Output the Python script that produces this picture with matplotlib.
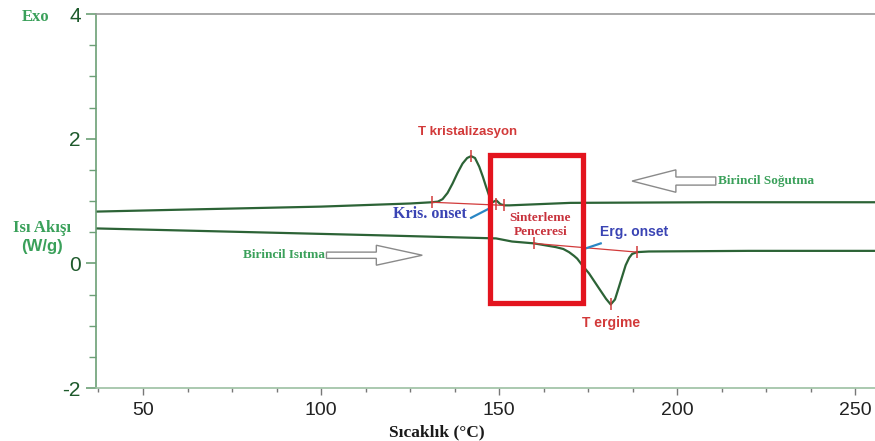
import matplotlib.pyplot as plt
from matplotlib.patches import Rectangle, FancyArrow
from matplotlib.ticker import MultipleLocator

plt.rcParams['axes.unicode_minus'] = False

# ilk sogutma egrisi (ust)
cool_T = [36.8, 60, 100, 125, 131.1, 132.8, 134.1, 135.5, 136.9, 138.3, 139.7, 141.0, 142.1,
          143.2, 144.4, 145.4, 146.3, 147.2, 148.1, 149.2, 150.3, 151.4, 152.8, 170, 210, 255.5]
cool_v = [0.83, 0.86, 0.91, 0.96, 0.98, 0.99, 1.03, 1.13, 1.28, 1.45, 1.60, 1.69, 1.72,
          1.69, 1.55, 1.39, 1.23, 1.08, 0.98, 1.01, 0.95, 0.93, 0.93, 0.97, 0.98, 0.98]

# ilk isitma egrisi (alt)
heat_T = [36.8, 66, 116, 149.1, 153.6, 159.8, 165.9, 168.0, 169.6, 171.0, 171.9, 173.3, 175.2,
          178.0, 180.0, 181.3, 182.5, 183.6, 185.5, 186.5, 187.3, 188.7, 192.0, 220, 255.5]
heat_v = [0.56, 0.52, 0.45, 0.40, 0.35, 0.32, 0.26, 0.23, 0.18, 0.12, 0.075, -0.03, -0.16,
          -0.40, -0.57, -0.66, -0.58, -0.38, -0.03, 0.09, 0.15, 0.18, 0.19, 0.20, 0.20]

# taban cizgileri ve isaretler
cool_base_T = [131.1, 151.4]
cool_base_v = [0.98, 0.93]
heat_base_T = [159.8, 188.7]
heat_base_v = [0.32, 0.18]
mark_T = [131.1, 142.1, 149.2, 151.4, 159.8, 181.3, 188.7]
mark_v = [0.98, 1.72, 0.95, 0.93, 0.32, -0.66, 0.18]

window = (147.5, 173.5)   # sinterleme penceresi
window_v = (-0.63, 1.73)

W, H = 875, 441
fig = plt.figure(figsize=(W / 100, H / 100), dpi=100)
ax = fig.add_axes([96 / W, 1 - 388 / H, 1 - 96 / W, (388 - 14) / H])

line_c = '#2c6336'
red = '#d23a3a'
blue = '#3a44b4'
green_txt = '#3aa05a'

ax.plot(cool_T, cool_v, color=line_c, lw=1.6)
ax.plot(heat_T, heat_v, color=line_c, lw=1.6)
ax.plot(cool_base_T, cool_base_v, color=red, lw=0.9)
ax.plot(heat_base_T, heat_base_v, color=red, lw=0.9)
ax.plot(mark_T, mark_v, ls='none', marker='|', ms=9, mew=1.1, color=red)

ax.add_patch(Rectangle((window[0], window_v[0]), window[1] - window[0],
                       window_v[1] - window_v[0], fill=False, ec='#e3141e', lw=3.8, zorder=5))

# onset isaretcileri
ax.plot([142.1, 147.2], [0.73, 0.88], color='#2a86c4', lw=1.6)
ax.plot([174.3, 178.5], [0.24, 0.32], color='#2a86c4', lw=1.6)

# yon oklari
ax.add_patch(FancyArrow(210.8, 1.32, -23.5, 0, width=0.13, head_width=0.36, head_length=12.3,
                        length_includes_head=True, fc='white', ec='#8a8a8a', lw=1.0))
ax.add_patch(FancyArrow(101.5, 0.13, 26.9, 0, width=0.10, head_width=0.32, head_length=12.9,
                        length_includes_head=True, fc='white', ec='#8a8a8a', lw=1.0))

ax.text(141.0, 2.1, 'T kristalizasyon', color=red, fontsize=9.5, fontweight='bold',
        family='Liberation Sans', ha='center', va='center')
ax.text(141.0, 0.79, 'Kris. onset', color=blue, fontsize=11.5, fontweight='bold',
        family='Liberation Serif', ha='right', va='center')
ax.text(161.5, 0.61, 'Sinterleme\nPenceresi', color='#c8323c', fontsize=9.5, fontweight='bold',
        family='Liberation Serif', ha='center', va='center', linespacing=1.2)
ax.text(178.3, 0.50, 'Erg. onset', color=blue, fontsize=10, fontweight='bold',
        family='Liberation Sans', ha='left', va='center')
ax.text(181.4, -0.95, 'T ergime', color=red, fontsize=10, fontweight='bold',
        family='Liberation Sans', ha='center', va='center')
ax.text(211.5, 1.32, 'Birincil Soğutma', color=green_txt, fontsize=9.5, fontweight='bold',
        family='Liberation Serif', ha='left', va='center')
ax.text(101.0, 0.13, 'Birincil Isıtma', color=green_txt, fontsize=9.5, fontweight='bold',
        family='Liberation Serif', ha='right', va='center')

ax.set_xlim(36.8, 255.5)
ax.set_ylim(-2, 4)
ax.xaxis.set_major_locator(MultipleLocator(50))
ax.xaxis.set_minor_locator(MultipleLocator(12.5))
ax.yaxis.set_major_locator(MultipleLocator(2))
ax.yaxis.set_minor_locator(MultipleLocator(0.5))

ax.spines['right'].set_visible(False)
ax.spines['top'].set_color('#9a9a9a')
ax.spines['left'].set_color('#6c9f76')
ax.spines['bottom'].set_color('#9cc0a2')
for s in ('left', 'bottom', 'top'):
    ax.spines[s].set_linewidth(1.2)

ax.tick_params(axis='y', which='both', colors='#6c9f76', labelcolor='#1e5a2c', labelsize=15)
ax.tick_params(axis='y', which='major', length=7, width=1.2, pad=4)
ax.tick_params(axis='y', which='minor', length=5, width=1.0)
ax.tick_params(axis='x', which='both', colors='#777777', labelcolor='#222222', labelsize=14)
ax.tick_params(axis='x', which='major', length=5, width=1.0, pad=5)
ax.tick_params(axis='x', which='minor', length=3, width=1.0)
for lbl in ax.get_xticklabels() + ax.get_yticklabels():
    lbl.set_family('Liberation Sans')

fig.text(36 / W, 1 - 17 / H, 'Exo', color=green_txt, fontsize=12, fontweight='bold',
         family='Liberation Serif', ha='center', va='center')
fig.text(42 / W, 1 - 228 / H, 'Isı Akışı', color=green_txt, fontsize=12, fontweight='bold',
         family='Liberation Serif', ha='center', va='center')
fig.text(42 / W, 1 - 247 / H, '(W/g)', color=green_txt, fontsize=12, fontweight='bold',
         family='Liberation Sans', ha='center', va='center')
fig.text(437 / W, 1 - 432 / H, 'Sıcaklık (°C)', color='#1a1a1a', fontsize=12.5, fontweight='bold',
         family='Liberation Serif', ha='center', va='center')

fig.savefig('out.png', dpi=100)
